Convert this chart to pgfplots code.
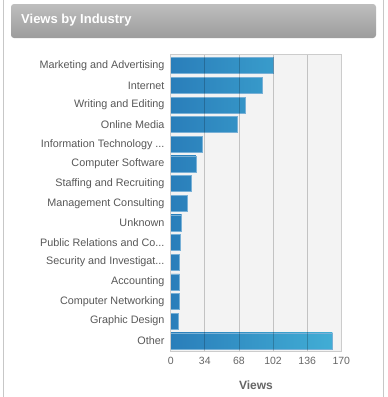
\documentclass[border=0pt]{standalone}
\usepackage{pgfplots}
\pgfplotsset{compat=1.18}
\usepackage{fontspec}
\setmainfont{Liberation Sans}
\definecolor{bardark}{RGB}{42,126,186}
\definecolor{barlight}{RGB}{65,173,213}
\definecolor{txt}{RGB}{88,88,88}
\definecolor{ticktxt}{RGB}{102,102,102}
\definecolor{plotbg}{RGB}{243,243,243}
\pgfplotsset{
  onebar/.style={xbar, bar width=16pt, bar shift=0pt, left color=bardark,
    draw={rgb,255:red,120;green,176;blue,214}, line width=0.5pt},
}
\begin{document}
\begin{tikzpicture}[x=1pt,y=1pt]
\path[use as bounding box] (0pt,0pt) rectangle (388pt,-397pt);
\fill[white] (0pt,0pt) rectangle (388pt,-397pt);
\draw[black!22, line width=1pt] (3.5pt,0pt) -- (3.5pt,-397pt);
\draw[black!22, line width=1pt] (383.5pt,0pt) -- (383.5pt,-397pt);
\shade[top color={rgb,255:red,190;green,190;blue,190}, bottom color={rgb,255:red,156;green,156;blue,156}, rounded corners=3pt] (11pt,-4pt) rectangle (376pt,-38pt);
\node[anchor=base west, white, inner sep=0pt, font=\bfseries\fontsize{13}{15}\selectfont] at (21pt,-23pt) {Views by Industry};
\begin{axis}[
  at={(170.7pt,-351pt)}, anchor=south west,
  scale only axis, width=170.6pt, height=296.7pt,
  xmin=0, xmax=170, ymin=-0.58, ymax=14.52,
  y dir=reverse,
  xtick={0,34,68,102,136,170},
  ytick={0,1,2,3,4,5,6,7,8,9,10,11,12,13,14},
  yticklabels={Marketing and Advertising, Internet, Writing and Editing, Online Media, Information Technology .{}.{}., Computer Software, Staffing and Recruiting, Management Consulting, Unknown, Public Relations and Co.{}.{}., Security and Investigat.{}.{}., Accounting, Computer Networking, Graphic Design, Other},
  major tick length=0pt,
  xmajorgrids, major grid style={black, opacity=0.2, line width=0.8pt},
  axis on top,
  axis line style={black!20, line width=0.8pt},
  axis background/.style={fill=plotbg},
  /pgf/number format/assume math mode=true,
  yticklabel style={font=\fontsize{10.8}{12}\selectfont, text=txt, inner sep=0pt, anchor=east, xshift=-6pt},
  xticklabel style={font=\fontsize{10.5}{12}\selectfont, text=ticktxt, inner sep=0pt, anchor=north, yshift=-6pt},
  xlabel={Views},
  xlabel style={font=\bfseries\fontsize{12}{14}\selectfont, text=ticktxt, inner sep=0pt, anchor=base, at={(axis description cs:0.5,0)}, yshift=-38pt},
]
\addplot[onebar, right color=barlight!63!bardark] coordinates {(102,0)};
\addplot[onebar, right color=barlight!57!bardark] coordinates {(91,1)};
\addplot[onebar, right color=barlight!46!bardark] coordinates {(74,2)};
\addplot[onebar, right color=barlight!41!bardark] coordinates {(66,3)};
\addplot[onebar, right color=barlight!19!bardark] coordinates {(31,4)};
\addplot[onebar, right color=barlight!16!bardark] coordinates {(25,5)};
\addplot[onebar, right color=barlight!12!bardark] coordinates {(20,6)};
\addplot[onebar, right color=barlight!10!bardark] coordinates {(16,7)};
\addplot[onebar, right color=barlight!7!bardark] coordinates {(11,8)};
\addplot[onebar, right color=barlight!6!bardark] coordinates {(10,9) (9,10) (9,11) (9,12)};
\addplot[onebar, right color=barlight!5!bardark] coordinates {(8,13)};
\addplot[onebar, right color=barlight] coordinates {(161,14)};
\end{axis}
\end{tikzpicture}
\end{document}
